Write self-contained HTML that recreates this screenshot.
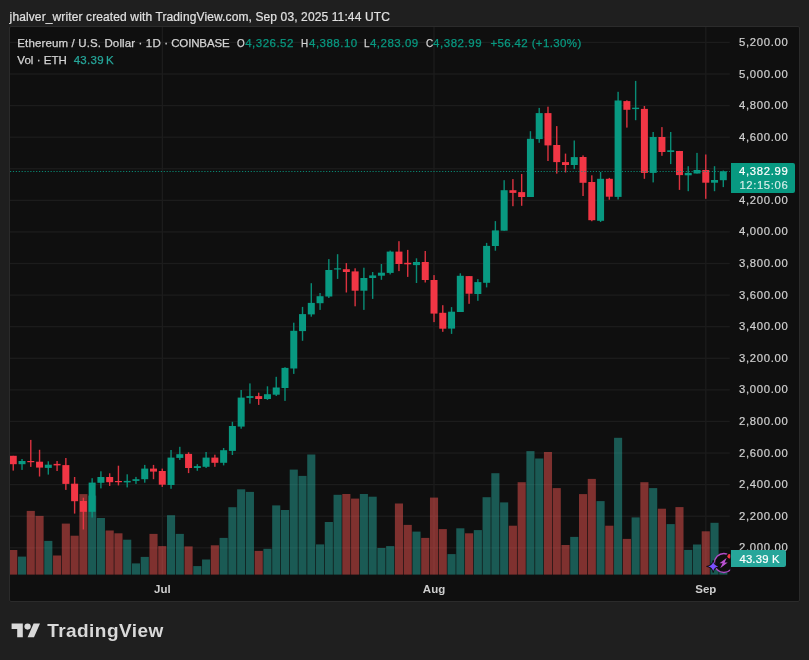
<!DOCTYPE html>
<html><head><meta charset="utf-8"><title>ETHUSD chart</title>
<style>
html,body{margin:0;padding:0;background:#1f1f1f;}
body{width:809px;height:660px;position:relative;overflow:hidden;font-family:"Liberation Sans",sans-serif;}
.t{position:absolute;white-space:nowrap;line-height:1;}
#frame{position:absolute;left:8.9px;top:25.9px;width:791.2px;height:576.4px;background:#0f0f0f;border:1.45px solid #2b2b2b;box-sizing:border-box;border-radius:2px;}
svg{position:absolute;left:0;top:0;}
.ax{font-size:12px;color:#cfcfcf;left:739px;letter-spacing:0.33px;}
.lg{font-size:12px;color:#d1d1d1;}
.gv{color:#089981;}
.mo{font-size:11.5px;font-weight:bold;color:#cdcdcd;transform:translateX(-50%);}
</style></head><body>
<div class="t" id="hdr" style="left:9.6px;top:11.2px;font-size:12px;color:#e0e0e0;letter-spacing:0.118px;-webkit-text-stroke:0.2px #e0e0e0;">jhalver_writer created with TradingView.com, Sep 03, 2025 11:44 UTC</div>
<div id="frame"></div>
<svg width="809" height="660" viewBox="0 0 809 660">
<rect x="10" y="41.77" width="719.8" height="1.3" fill="#1c1c1c"/>
<rect x="10" y="73.36" width="719.8" height="1.3" fill="#1c1c1c"/>
<rect x="10" y="104.94" width="719.8" height="1.3" fill="#1c1c1c"/>
<rect x="10" y="136.53" width="719.8" height="1.3" fill="#1c1c1c"/>
<rect x="10" y="168.11" width="719.8" height="1.3" fill="#1c1c1c"/>
<rect x="10" y="199.70" width="719.8" height="1.3" fill="#1c1c1c"/>
<rect x="10" y="231.29" width="719.8" height="1.3" fill="#1c1c1c"/>
<rect x="10" y="262.87" width="719.8" height="1.3" fill="#1c1c1c"/>
<rect x="10" y="294.46" width="719.8" height="1.3" fill="#1c1c1c"/>
<rect x="10" y="326.04" width="719.8" height="1.3" fill="#1c1c1c"/>
<rect x="10" y="357.63" width="719.8" height="1.3" fill="#1c1c1c"/>
<rect x="10" y="389.22" width="719.8" height="1.3" fill="#1c1c1c"/>
<rect x="10" y="420.80" width="719.8" height="1.3" fill="#1c1c1c"/>
<rect x="10" y="452.39" width="719.8" height="1.3" fill="#1c1c1c"/>
<rect x="10" y="483.97" width="719.8" height="1.3" fill="#1c1c1c"/>
<rect x="10" y="515.56" width="719.8" height="1.3" fill="#1c1c1c"/>
<rect x="10" y="547.15" width="719.8" height="1.3" fill="#1c1c1c"/>
<rect x="161.75" y="27" width="1.3" height="547.6" fill="#1c1c1c"/>
<rect x="433.35" y="27" width="1.3" height="547.6" fill="#1c1c1c"/>
<rect x="705.15" y="27" width="1.3" height="547.6" fill="#1c1c1c"/>
<rect x="10.00" y="550.0" width="7.30" height="24.6" fill="#ef5350" fill-opacity="0.5"/>
<rect x="17.97" y="556.6" width="8.10" height="18.0" fill="#26a69a" fill-opacity="0.5"/>
<rect x="26.73" y="510.9" width="8.10" height="63.7" fill="#ef5350" fill-opacity="0.5"/>
<rect x="35.50" y="515.9" width="8.10" height="58.7" fill="#ef5350" fill-opacity="0.5"/>
<rect x="44.26" y="540.9" width="8.10" height="33.7" fill="#26a69a" fill-opacity="0.5"/>
<rect x="53.03" y="555.5" width="8.10" height="19.1" fill="#ef5350" fill-opacity="0.5"/>
<rect x="61.80" y="523.6" width="8.10" height="51.0" fill="#ef5350" fill-opacity="0.5"/>
<rect x="70.56" y="535.7" width="8.10" height="38.9" fill="#ef5350" fill-opacity="0.5"/>
<rect x="79.33" y="494.1" width="8.10" height="80.5" fill="#ef5350" fill-opacity="0.5"/>
<rect x="88.09" y="495.6" width="8.10" height="79.0" fill="#26a69a" fill-opacity="0.5"/>
<rect x="96.86" y="518.0" width="8.10" height="56.6" fill="#26a69a" fill-opacity="0.5"/>
<rect x="105.63" y="530.5" width="8.10" height="44.1" fill="#ef5350" fill-opacity="0.5"/>
<rect x="114.39" y="533.3" width="8.10" height="41.3" fill="#ef5350" fill-opacity="0.5"/>
<rect x="123.16" y="539.7" width="8.10" height="34.9" fill="#26a69a" fill-opacity="0.5"/>
<rect x="131.92" y="563.4" width="8.10" height="11.2" fill="#26a69a" fill-opacity="0.5"/>
<rect x="140.69" y="556.9" width="8.10" height="17.7" fill="#26a69a" fill-opacity="0.5"/>
<rect x="149.46" y="533.9" width="8.10" height="40.7" fill="#ef5350" fill-opacity="0.5"/>
<rect x="158.22" y="546.1" width="8.10" height="28.5" fill="#ef5350" fill-opacity="0.5"/>
<rect x="166.99" y="515.2" width="8.10" height="59.4" fill="#26a69a" fill-opacity="0.5"/>
<rect x="175.75" y="533.9" width="8.10" height="40.7" fill="#26a69a" fill-opacity="0.5"/>
<rect x="184.52" y="546.4" width="8.10" height="28.2" fill="#ef5350" fill-opacity="0.5"/>
<rect x="193.29" y="566.1" width="8.10" height="8.5" fill="#26a69a" fill-opacity="0.5"/>
<rect x="202.05" y="559.5" width="8.10" height="15.1" fill="#26a69a" fill-opacity="0.5"/>
<rect x="210.82" y="545.3" width="8.10" height="29.3" fill="#ef5350" fill-opacity="0.5"/>
<rect x="219.58" y="537.9" width="8.10" height="36.7" fill="#26a69a" fill-opacity="0.5"/>
<rect x="228.35" y="507.2" width="8.10" height="67.4" fill="#26a69a" fill-opacity="0.5"/>
<rect x="237.12" y="489.3" width="8.10" height="85.3" fill="#26a69a" fill-opacity="0.5"/>
<rect x="245.88" y="491.9" width="8.10" height="82.7" fill="#26a69a" fill-opacity="0.5"/>
<rect x="254.65" y="550.9" width="8.10" height="23.7" fill="#ef5350" fill-opacity="0.5"/>
<rect x="263.41" y="548.8" width="8.10" height="25.8" fill="#26a69a" fill-opacity="0.5"/>
<rect x="272.18" y="505.4" width="8.10" height="69.2" fill="#26a69a" fill-opacity="0.5"/>
<rect x="280.95" y="510.0" width="8.10" height="64.6" fill="#26a69a" fill-opacity="0.5"/>
<rect x="289.71" y="469.6" width="8.10" height="105.0" fill="#26a69a" fill-opacity="0.5"/>
<rect x="298.48" y="475.9" width="8.10" height="98.7" fill="#26a69a" fill-opacity="0.5"/>
<rect x="307.24" y="454.5" width="8.10" height="120.1" fill="#26a69a" fill-opacity="0.5"/>
<rect x="316.01" y="544.4" width="8.10" height="30.2" fill="#26a69a" fill-opacity="0.5"/>
<rect x="324.78" y="522.0" width="8.10" height="52.6" fill="#26a69a" fill-opacity="0.5"/>
<rect x="333.54" y="494.8" width="8.10" height="79.8" fill="#26a69a" fill-opacity="0.5"/>
<rect x="342.31" y="494.0" width="8.10" height="80.6" fill="#ef5350" fill-opacity="0.5"/>
<rect x="351.07" y="498.6" width="8.10" height="76.0" fill="#ef5350" fill-opacity="0.5"/>
<rect x="359.84" y="494.0" width="8.10" height="80.6" fill="#26a69a" fill-opacity="0.5"/>
<rect x="368.61" y="496.7" width="8.10" height="77.9" fill="#26a69a" fill-opacity="0.5"/>
<rect x="377.37" y="548.0" width="8.10" height="26.6" fill="#26a69a" fill-opacity="0.5"/>
<rect x="386.14" y="546.1" width="8.10" height="28.5" fill="#26a69a" fill-opacity="0.5"/>
<rect x="394.90" y="503.5" width="8.10" height="71.1" fill="#ef5350" fill-opacity="0.5"/>
<rect x="403.67" y="524.9" width="8.10" height="49.7" fill="#ef5350" fill-opacity="0.5"/>
<rect x="412.44" y="531.6" width="8.10" height="43.0" fill="#26a69a" fill-opacity="0.5"/>
<rect x="421.20" y="537.9" width="8.10" height="36.7" fill="#ef5350" fill-opacity="0.5"/>
<rect x="429.97" y="497.6" width="8.10" height="77.0" fill="#ef5350" fill-opacity="0.5"/>
<rect x="438.73" y="529.1" width="8.10" height="45.5" fill="#ef5350" fill-opacity="0.5"/>
<rect x="447.50" y="554.1" width="8.10" height="20.5" fill="#26a69a" fill-opacity="0.5"/>
<rect x="456.27" y="528.3" width="8.10" height="46.3" fill="#26a69a" fill-opacity="0.5"/>
<rect x="465.03" y="533.3" width="8.10" height="41.3" fill="#ef5350" fill-opacity="0.5"/>
<rect x="473.80" y="530.1" width="8.10" height="44.5" fill="#26a69a" fill-opacity="0.5"/>
<rect x="482.56" y="497.2" width="8.10" height="77.4" fill="#26a69a" fill-opacity="0.5"/>
<rect x="491.33" y="473.2" width="8.10" height="101.4" fill="#26a69a" fill-opacity="0.5"/>
<rect x="500.10" y="502.4" width="8.10" height="72.2" fill="#26a69a" fill-opacity="0.5"/>
<rect x="508.86" y="525.7" width="8.10" height="48.9" fill="#ef5350" fill-opacity="0.5"/>
<rect x="517.63" y="482.2" width="8.10" height="92.4" fill="#ef5350" fill-opacity="0.5"/>
<rect x="526.39" y="451.1" width="8.10" height="123.5" fill="#26a69a" fill-opacity="0.5"/>
<rect x="535.16" y="458.5" width="8.10" height="116.1" fill="#26a69a" fill-opacity="0.5"/>
<rect x="543.93" y="452.0" width="8.10" height="122.6" fill="#ef5350" fill-opacity="0.5"/>
<rect x="552.69" y="488.1" width="8.10" height="86.5" fill="#ef5350" fill-opacity="0.5"/>
<rect x="561.46" y="545.0" width="8.10" height="29.6" fill="#ef5350" fill-opacity="0.5"/>
<rect x="570.22" y="536.9" width="8.10" height="37.7" fill="#26a69a" fill-opacity="0.5"/>
<rect x="578.99" y="494.1" width="8.10" height="80.5" fill="#ef5350" fill-opacity="0.5"/>
<rect x="587.76" y="478.9" width="8.10" height="95.7" fill="#ef5350" fill-opacity="0.5"/>
<rect x="596.52" y="501.1" width="8.10" height="73.5" fill="#26a69a" fill-opacity="0.5"/>
<rect x="605.29" y="525.7" width="8.10" height="48.9" fill="#ef5350" fill-opacity="0.5"/>
<rect x="614.05" y="437.8" width="8.10" height="136.8" fill="#26a69a" fill-opacity="0.5"/>
<rect x="622.82" y="538.9" width="8.10" height="35.7" fill="#ef5350" fill-opacity="0.5"/>
<rect x="631.59" y="517.4" width="8.10" height="57.2" fill="#26a69a" fill-opacity="0.5"/>
<rect x="640.35" y="482.2" width="8.10" height="92.4" fill="#ef5350" fill-opacity="0.5"/>
<rect x="649.12" y="488.1" width="8.10" height="86.5" fill="#26a69a" fill-opacity="0.5"/>
<rect x="657.88" y="508.7" width="8.10" height="65.9" fill="#ef5350" fill-opacity="0.5"/>
<rect x="666.65" y="524.1" width="8.10" height="50.5" fill="#26a69a" fill-opacity="0.5"/>
<rect x="675.42" y="507.1" width="8.10" height="67.5" fill="#ef5350" fill-opacity="0.5"/>
<rect x="684.18" y="549.9" width="8.10" height="24.7" fill="#26a69a" fill-opacity="0.5"/>
<rect x="692.95" y="544.5" width="8.10" height="30.1" fill="#26a69a" fill-opacity="0.5"/>
<rect x="701.71" y="531.3" width="8.10" height="43.3" fill="#ef5350" fill-opacity="0.5"/>
<rect x="710.48" y="522.8" width="8.10" height="51.8" fill="#26a69a" fill-opacity="0.5"/>
<rect x="719.25" y="558.5" width="8.10" height="16.1" fill="#26a69a" fill-opacity="0.5"/>
<rect x="12.55" y="455.8" width="1.4" height="14.8" fill="#f23645" opacity="0.9"/>
<rect x="10.00" y="455.8" width="6.75" height="8.4" fill="#f23645"/>
<rect x="21.32" y="459.0" width="1.4" height="10.9" fill="#089981" opacity="0.9"/>
<rect x="18.52" y="461.0" width="7.00" height="3.2" fill="#089981"/>
<rect x="30.08" y="439.9" width="1.4" height="27.0" fill="#f23645" opacity="0.9"/>
<rect x="27.28" y="461.0" width="7.00" height="1.2" fill="#f23645"/>
<rect x="38.85" y="449.8" width="1.4" height="26.7" fill="#f23645" opacity="0.9"/>
<rect x="36.05" y="461.7" width="7.00" height="5.9" fill="#f23645"/>
<rect x="47.61" y="461.3" width="1.4" height="13.3" fill="#089981" opacity="0.9"/>
<rect x="44.81" y="464.7" width="7.00" height="3.2" fill="#089981"/>
<rect x="56.38" y="461.0" width="1.4" height="10.0" fill="#f23645" opacity="0.9"/>
<rect x="53.58" y="463.9" width="7.00" height="1.5" fill="#f23645"/>
<rect x="65.15" y="458.0" width="1.4" height="31.9" fill="#f23645" opacity="0.9"/>
<rect x="62.35" y="465.1" width="7.00" height="18.8" fill="#f23645"/>
<rect x="73.91" y="477.0" width="1.4" height="36.6" fill="#f23645" opacity="0.9"/>
<rect x="71.11" y="483.7" width="7.00" height="17.5" fill="#f23645"/>
<rect x="82.68" y="497.7" width="1.4" height="31.8" fill="#f23645" opacity="0.9"/>
<rect x="79.88" y="501.0" width="7.00" height="10.8" fill="#f23645"/>
<rect x="91.44" y="478.2" width="1.4" height="39.3" fill="#089981" opacity="0.9"/>
<rect x="88.64" y="482.6" width="7.00" height="29.2" fill="#089981"/>
<rect x="100.21" y="471.3" width="1.4" height="17.1" fill="#089981" opacity="0.9"/>
<rect x="97.41" y="477.0" width="7.00" height="5.8" fill="#089981"/>
<rect x="108.98" y="473.3" width="1.4" height="12.6" fill="#f23645" opacity="0.9"/>
<rect x="106.18" y="477.0" width="7.00" height="5.2" fill="#f23645"/>
<rect x="117.74" y="465.7" width="1.4" height="19.7" fill="#f23645" opacity="0.9"/>
<rect x="114.94" y="481.0" width="7.00" height="1.2" fill="#f23645"/>
<rect x="126.51" y="474.3" width="1.4" height="13.1" fill="#089981" opacity="0.9"/>
<rect x="123.71" y="480.9" width="7.00" height="1.5" fill="#089981"/>
<rect x="135.27" y="476.9" width="1.4" height="7.0" fill="#089981" opacity="0.9"/>
<rect x="132.47" y="479.2" width="7.00" height="1.7" fill="#089981"/>
<rect x="144.04" y="464.9" width="1.4" height="17.8" fill="#089981" opacity="0.9"/>
<rect x="141.24" y="468.6" width="7.00" height="10.6" fill="#089981"/>
<rect x="152.81" y="464.9" width="1.4" height="14.3" fill="#f23645" opacity="0.9"/>
<rect x="150.01" y="468.6" width="7.00" height="3.0" fill="#f23645"/>
<rect x="161.57" y="468.6" width="1.4" height="18.3" fill="#f23645" opacity="0.9"/>
<rect x="158.77" y="471.0" width="7.00" height="13.7" fill="#f23645"/>
<rect x="170.34" y="450.0" width="1.4" height="38.8" fill="#089981" opacity="0.9"/>
<rect x="167.54" y="457.6" width="7.00" height="27.4" fill="#089981"/>
<rect x="179.10" y="446.8" width="1.4" height="13.1" fill="#089981" opacity="0.9"/>
<rect x="176.30" y="454.2" width="7.00" height="3.7" fill="#089981"/>
<rect x="187.87" y="452.3" width="1.4" height="20.8" fill="#f23645" opacity="0.9"/>
<rect x="185.07" y="453.9" width="7.00" height="14.1" fill="#f23645"/>
<rect x="196.64" y="464.2" width="1.4" height="6.6" fill="#089981" opacity="0.9"/>
<rect x="193.84" y="466.1" width="7.00" height="1.9" fill="#089981"/>
<rect x="205.40" y="452.0" width="1.4" height="16.0" fill="#089981" opacity="0.9"/>
<rect x="202.60" y="457.6" width="7.00" height="9.2" fill="#089981"/>
<rect x="214.17" y="454.7" width="1.4" height="12.1" fill="#f23645" opacity="0.9"/>
<rect x="211.37" y="457.6" width="7.00" height="5.2" fill="#f23645"/>
<rect x="222.93" y="448.0" width="1.4" height="17.4" fill="#089981" opacity="0.9"/>
<rect x="220.13" y="450.2" width="7.00" height="12.6" fill="#089981"/>
<rect x="231.70" y="421.8" width="1.4" height="33.2" fill="#089981" opacity="0.9"/>
<rect x="228.90" y="426.0" width="7.00" height="24.9" fill="#089981"/>
<rect x="240.47" y="390.0" width="1.4" height="38.7" fill="#089981" opacity="0.9"/>
<rect x="237.67" y="397.6" width="7.00" height="29.0" fill="#089981"/>
<rect x="249.23" y="383.4" width="1.4" height="20.2" fill="#089981" opacity="0.9"/>
<rect x="246.43" y="396.1" width="7.00" height="1.8" fill="#089981"/>
<rect x="258.00" y="392.7" width="1.4" height="12.2" fill="#f23645" opacity="0.9"/>
<rect x="255.20" y="396.1" width="7.00" height="2.9" fill="#f23645"/>
<rect x="266.76" y="386.3" width="1.4" height="13.6" fill="#089981" opacity="0.9"/>
<rect x="263.96" y="394.2" width="7.00" height="4.8" fill="#089981"/>
<rect x="275.53" y="376.8" width="1.4" height="19.2" fill="#089981" opacity="0.9"/>
<rect x="272.73" y="387.5" width="7.00" height="7.2" fill="#089981"/>
<rect x="284.30" y="367.2" width="1.4" height="33.7" fill="#089981" opacity="0.9"/>
<rect x="281.50" y="367.9" width="7.00" height="20.1" fill="#089981"/>
<rect x="293.06" y="322.7" width="1.4" height="51.2" fill="#089981" opacity="0.9"/>
<rect x="290.26" y="330.8" width="7.00" height="37.7" fill="#089981"/>
<rect x="301.83" y="306.9" width="1.4" height="33.9" fill="#089981" opacity="0.9"/>
<rect x="299.03" y="314.1" width="7.00" height="17.0" fill="#089981"/>
<rect x="310.59" y="283.2" width="1.4" height="33.5" fill="#089981" opacity="0.9"/>
<rect x="307.79" y="302.9" width="7.00" height="11.5" fill="#089981"/>
<rect x="319.36" y="293.0" width="1.4" height="16.9" fill="#089981" opacity="0.9"/>
<rect x="316.56" y="296.2" width="7.00" height="7.0" fill="#089981"/>
<rect x="328.13" y="259.1" width="1.4" height="38.9" fill="#089981" opacity="0.9"/>
<rect x="325.33" y="270.0" width="7.00" height="26.5" fill="#089981"/>
<rect x="336.89" y="254.2" width="1.4" height="24.7" fill="#089981" opacity="0.9"/>
<rect x="334.09" y="268.3" width="7.00" height="1.2" fill="#089981"/>
<rect x="345.66" y="263.1" width="1.4" height="29.4" fill="#f23645" opacity="0.9"/>
<rect x="342.86" y="269.2" width="7.00" height="2.8" fill="#f23645"/>
<rect x="354.42" y="268.3" width="1.4" height="38.0" fill="#f23645" opacity="0.9"/>
<rect x="351.62" y="271.4" width="7.00" height="19.3" fill="#f23645"/>
<rect x="363.19" y="267.7" width="1.4" height="42.2" fill="#089981" opacity="0.9"/>
<rect x="360.39" y="278.0" width="7.00" height="12.7" fill="#089981"/>
<rect x="371.96" y="272.0" width="1.4" height="26.9" fill="#089981" opacity="0.9"/>
<rect x="369.16" y="275.4" width="7.00" height="2.6" fill="#089981"/>
<rect x="380.72" y="264.0" width="1.4" height="15.8" fill="#089981" opacity="0.9"/>
<rect x="377.92" y="272.7" width="7.00" height="3.0" fill="#089981"/>
<rect x="389.49" y="250.6" width="1.4" height="23.8" fill="#089981" opacity="0.9"/>
<rect x="386.69" y="251.6" width="7.00" height="21.3" fill="#089981"/>
<rect x="398.25" y="241.2" width="1.4" height="29.9" fill="#f23645" opacity="0.9"/>
<rect x="395.45" y="251.6" width="7.00" height="12.4" fill="#f23645"/>
<rect x="407.02" y="249.9" width="1.4" height="27.0" fill="#f23645" opacity="0.9"/>
<rect x="404.22" y="262.8" width="7.00" height="1.5" fill="#f23645"/>
<rect x="415.79" y="258.3" width="1.4" height="24.7" fill="#089981" opacity="0.9"/>
<rect x="412.99" y="262.0" width="7.00" height="3.1" fill="#089981"/>
<rect x="424.55" y="251.0" width="1.4" height="31.5" fill="#f23645" opacity="0.9"/>
<rect x="421.75" y="262.0" width="7.00" height="18.0" fill="#f23645"/>
<rect x="433.32" y="275.1" width="1.4" height="47.0" fill="#f23645" opacity="0.9"/>
<rect x="430.52" y="280.0" width="7.00" height="33.6" fill="#f23645"/>
<rect x="442.08" y="305.2" width="1.4" height="26.6" fill="#f23645" opacity="0.9"/>
<rect x="439.28" y="312.8" width="7.00" height="15.9" fill="#f23645"/>
<rect x="450.85" y="307.1" width="1.4" height="26.8" fill="#089981" opacity="0.9"/>
<rect x="448.05" y="311.7" width="7.00" height="16.9" fill="#089981"/>
<rect x="459.62" y="273.3" width="1.4" height="38.7" fill="#089981" opacity="0.9"/>
<rect x="456.82" y="275.8" width="7.00" height="36.2" fill="#089981"/>
<rect x="468.38" y="276.1" width="1.4" height="27.7" fill="#f23645" opacity="0.9"/>
<rect x="465.58" y="276.1" width="7.00" height="17.6" fill="#f23645"/>
<rect x="477.15" y="279.1" width="1.4" height="21.7" fill="#089981" opacity="0.9"/>
<rect x="474.35" y="282.1" width="7.00" height="11.9" fill="#089981"/>
<rect x="485.91" y="242.9" width="1.4" height="44.5" fill="#089981" opacity="0.9"/>
<rect x="483.11" y="245.9" width="7.00" height="36.9" fill="#089981"/>
<rect x="494.68" y="221.1" width="1.4" height="29.6" fill="#089981" opacity="0.9"/>
<rect x="491.88" y="230.4" width="7.00" height="15.6" fill="#089981"/>
<rect x="503.45" y="180.2" width="1.4" height="50.5" fill="#089981" opacity="0.9"/>
<rect x="500.65" y="190.2" width="7.00" height="40.5" fill="#089981"/>
<rect x="512.21" y="179.1" width="1.4" height="27.1" fill="#f23645" opacity="0.9"/>
<rect x="509.41" y="190.2" width="7.00" height="2.7" fill="#f23645"/>
<rect x="520.98" y="174.0" width="1.4" height="31.8" fill="#f23645" opacity="0.9"/>
<rect x="518.18" y="192.1" width="7.00" height="4.9" fill="#f23645"/>
<rect x="529.74" y="131.2" width="1.4" height="65.8" fill="#089981" opacity="0.9"/>
<rect x="526.94" y="138.8" width="7.00" height="58.2" fill="#089981"/>
<rect x="538.51" y="107.9" width="1.4" height="34.9" fill="#089981" opacity="0.9"/>
<rect x="535.71" y="113.1" width="7.00" height="26.0" fill="#089981"/>
<rect x="547.28" y="106.7" width="1.4" height="54.3" fill="#f23645" opacity="0.9"/>
<rect x="544.48" y="113.1" width="7.00" height="32.3" fill="#f23645"/>
<rect x="556.04" y="126.1" width="1.4" height="47.5" fill="#f23645" opacity="0.9"/>
<rect x="553.24" y="145.0" width="7.00" height="17.1" fill="#f23645"/>
<rect x="564.81" y="153.6" width="1.4" height="18.9" fill="#f23645" opacity="0.9"/>
<rect x="562.01" y="162.1" width="7.00" height="2.9" fill="#f23645"/>
<rect x="573.57" y="140.5" width="1.4" height="28.6" fill="#089981" opacity="0.9"/>
<rect x="570.77" y="157.1" width="7.00" height="7.9" fill="#089981"/>
<rect x="582.34" y="155.4" width="1.4" height="40.6" fill="#f23645" opacity="0.9"/>
<rect x="579.54" y="157.0" width="7.00" height="25.8" fill="#f23645"/>
<rect x="591.11" y="175.3" width="1.4" height="45.9" fill="#f23645" opacity="0.9"/>
<rect x="588.31" y="182.0" width="7.00" height="38.2" fill="#f23645"/>
<rect x="599.87" y="172.0" width="1.4" height="50.0" fill="#089981" opacity="0.9"/>
<rect x="597.07" y="178.8" width="7.00" height="42.0" fill="#089981"/>
<rect x="608.64" y="177.9" width="1.4" height="21.8" fill="#f23645" opacity="0.9"/>
<rect x="605.84" y="178.8" width="7.00" height="17.9" fill="#f23645"/>
<rect x="617.40" y="91.8" width="1.4" height="107.7" fill="#089981" opacity="0.9"/>
<rect x="614.60" y="100.5" width="7.00" height="96.4" fill="#089981"/>
<rect x="626.17" y="100.3" width="1.4" height="27.3" fill="#f23645" opacity="0.9"/>
<rect x="623.37" y="101.1" width="7.00" height="8.7" fill="#f23645"/>
<rect x="634.94" y="80.9" width="1.4" height="39.3" fill="#089981" opacity="0.9"/>
<rect x="632.14" y="107.7" width="7.00" height="1.4" fill="#089981"/>
<rect x="643.70" y="106.0" width="1.4" height="72.8" fill="#f23645" opacity="0.9"/>
<rect x="640.90" y="108.9" width="7.00" height="64.0" fill="#f23645"/>
<rect x="652.47" y="132.0" width="1.4" height="50.4" fill="#089981" opacity="0.9"/>
<rect x="649.67" y="137.0" width="7.00" height="35.9" fill="#089981"/>
<rect x="661.23" y="127.1" width="1.4" height="28.7" fill="#f23645" opacity="0.9"/>
<rect x="658.43" y="137.0" width="7.00" height="15.0" fill="#f23645"/>
<rect x="670.00" y="132.0" width="1.4" height="32.1" fill="#089981" opacity="0.9"/>
<rect x="667.20" y="150.3" width="7.00" height="1.7" fill="#089981"/>
<rect x="678.77" y="150.9" width="1.4" height="39.0" fill="#f23645" opacity="0.9"/>
<rect x="675.97" y="151.0" width="7.00" height="24.1" fill="#f23645"/>
<rect x="687.53" y="166.2" width="1.4" height="25.0" fill="#089981" opacity="0.9"/>
<rect x="684.73" y="172.9" width="7.00" height="2.4" fill="#089981"/>
<rect x="696.30" y="152.9" width="1.4" height="20.6" fill="#089981" opacity="0.9"/>
<rect x="693.50" y="170.0" width="7.00" height="3.5" fill="#089981"/>
<rect x="705.06" y="154.5" width="1.4" height="44.3" fill="#f23645" opacity="0.9"/>
<rect x="702.26" y="170.0" width="7.00" height="12.7" fill="#f23645"/>
<rect x="713.83" y="166.2" width="1.4" height="25.0" fill="#089981" opacity="0.9"/>
<rect x="711.03" y="180.0" width="7.00" height="2.7" fill="#089981"/>
<rect x="722.60" y="170.5" width="1.4" height="16.6" fill="#089981" opacity="0.9"/>
<rect x="719.80" y="171.3" width="7.00" height="8.9" fill="#089981"/>
<line x1="10" y1="171.5" x2="730" y2="171.5" stroke="#089981" stroke-width="1.15" stroke-dasharray="1.2 1.7" opacity="0.85"/>
<!-- icon -->
<clipPath id="pc"><rect x="10" y="27" width="720.2" height="548"/></clipPath>
<g clip-path="url(#pc)">
<circle cx="723.9" cy="563" r="9.5" fill="#0f0f0f" stroke="#b14cc6" stroke-width="1.4"/>
<polygon points="726.8,557.7 719.5,563.3 722.6,563.2 720.2,568.3 727.7,562.4 724.6,562.6" fill="#bb52d2"/>
<path d="M713.2 560.2 Q714.2 565.4 719.9 566.4 Q714.2 567.4 713.2 572.6 Q712.2 567.4 706.5 566.4 Q712.2 565.4 713.2 560.2Z" fill="#0f0f0f" stroke="#0f0f0f" stroke-width="0.8"/>
<path d="M713.2 561.7 Q714 565.6 718.3 566.4 Q714 567.2 713.2 571.1 Q712.4 567.2 708.1 566.4 Q712.4 565.6 713.2 561.7Z" fill="#7a50ff"/>
<circle cx="729.7" cy="556.2" r="3.4" fill="#0f0f0f"/>
<circle cx="729.7" cy="556.2" r="2.3" fill="#f23645"/>
</g>
<!-- logo mark -->
<g transform="translate(11.6,620.5) scale(0.8,0.765)" fill="#d9d9d9">
<path d="M14 22H7V11H0V4h14v18zM28 22h-8l7.5-18h8L28 22z"/><circle cx="20" cy="8" r="4"/>
</g>
</svg>
<div class="t " style="left:739.00px;top:36.92px;font-size:11.3px;color:#d0d0d0;font-weight:normal;letter-spacing:0.689px;-webkit-text-stroke:0.2px;">5,200.00</div>
<div class="t " style="left:739.00px;top:68.51px;font-size:11.3px;color:#d0d0d0;font-weight:normal;letter-spacing:0.689px;-webkit-text-stroke:0.2px;">5,000.00</div>
<div class="t " style="left:739.00px;top:100.09px;font-size:11.3px;color:#d0d0d0;font-weight:normal;letter-spacing:0.689px;-webkit-text-stroke:0.2px;">4,800.00</div>
<div class="t " style="left:739.00px;top:131.68px;font-size:11.3px;color:#d0d0d0;font-weight:normal;letter-spacing:0.689px;-webkit-text-stroke:0.2px;">4,600.00</div>
<div class="t " style="left:739.00px;top:194.85px;font-size:11.3px;color:#d0d0d0;font-weight:normal;letter-spacing:0.689px;-webkit-text-stroke:0.2px;">4,200.00</div>
<div class="t " style="left:739.00px;top:226.44px;font-size:11.3px;color:#d0d0d0;font-weight:normal;letter-spacing:0.689px;-webkit-text-stroke:0.2px;">4,000.00</div>
<div class="t " style="left:739.00px;top:258.02px;font-size:11.3px;color:#d0d0d0;font-weight:normal;letter-spacing:0.689px;-webkit-text-stroke:0.2px;">3,800.00</div>
<div class="t " style="left:739.00px;top:289.61px;font-size:11.3px;color:#d0d0d0;font-weight:normal;letter-spacing:0.689px;-webkit-text-stroke:0.2px;">3,600.00</div>
<div class="t " style="left:739.00px;top:321.19px;font-size:11.3px;color:#d0d0d0;font-weight:normal;letter-spacing:0.689px;-webkit-text-stroke:0.2px;">3,400.00</div>
<div class="t " style="left:739.00px;top:352.78px;font-size:11.3px;color:#d0d0d0;font-weight:normal;letter-spacing:0.689px;-webkit-text-stroke:0.2px;">3,200.00</div>
<div class="t " style="left:739.00px;top:384.37px;font-size:11.3px;color:#d0d0d0;font-weight:normal;letter-spacing:0.689px;-webkit-text-stroke:0.2px;">3,000.00</div>
<div class="t " style="left:739.00px;top:415.95px;font-size:11.3px;color:#d0d0d0;font-weight:normal;letter-spacing:0.689px;-webkit-text-stroke:0.2px;">2,800.00</div>
<div class="t " style="left:739.00px;top:447.54px;font-size:11.3px;color:#d0d0d0;font-weight:normal;letter-spacing:0.689px;-webkit-text-stroke:0.2px;">2,600.00</div>
<div class="t " style="left:739.00px;top:479.12px;font-size:11.3px;color:#d0d0d0;font-weight:normal;letter-spacing:0.689px;-webkit-text-stroke:0.2px;">2,400.00</div>
<div class="t " style="left:739.00px;top:510.71px;font-size:11.3px;color:#d0d0d0;font-weight:normal;letter-spacing:0.689px;-webkit-text-stroke:0.2px;">2,200.00</div>
<div class="t " style="left:739.00px;top:542.3px;font-size:11.3px;color:#d0d0d0;font-weight:normal;letter-spacing:0.689px;-webkit-text-stroke:0.2px;">2,000.00</div>
<div style="position:absolute;left:730.7px;top:163.2px;width:64.1px;height:29.7px;background:#089981;border-radius:0 2px 2px 0"></div>
<div style="position:absolute;left:730.7px;top:550.1px;width:55.1px;height:16.9px;background:#26a69a;border-radius:0 2px 2px 0"></div>
<div class="t " style="left:739.00px;top:165.9px;font-size:11.3px;color:#ffffff;font-weight:normal;letter-spacing:0.689px;-webkit-text-stroke:0.2px;">4,382.99</div>
<div class="t " style="left:739.40px;top:179.8px;font-size:11.3px;color:#d6eeea;font-weight:normal;letter-spacing:0.614px;-webkit-text-stroke:0.15px;">12:15:06</div>
<div class="t " style="left:739.40px;top:553.5px;font-size:11.3px;color:#ffffff;font-weight:normal;letter-spacing:0.204px;-webkit-text-stroke:0.2px;">43.39</div>
<div class="t " style="left:771.90px;top:553.5px;font-size:11.3px;color:#ffffff;font-weight:normal;letter-spacing:0.000px;-webkit-text-stroke:0.2px;">K</div>
<div class="t mo" style="left:162.4px;top:584.1px">Jul</div>
<div class="t mo" style="left:434px;top:584.1px">Aug</div>
<div class="t mo" style="left:705.8px;top:584.1px">Sep</div>
<div class="t " style="left:17.30px;top:38.2px;font-size:11.5px;color:#d4d4d4;font-weight:normal;letter-spacing:0.132px;-webkit-text-stroke:0.25px;">Ethereum / U.S. Dollar · 1D ·</div>
<div class="t " style="left:171.20px;top:38.2px;font-size:11.5px;color:#d4d4d4;font-weight:normal;letter-spacing:-0.142px;-webkit-text-stroke:0.25px;">COINBASE</div>
<div class="t " style="left:236.70px;top:38.2px;font-size:11.5px;color:#d4d4d4;font-weight:normal;letter-spacing:0.000px;-webkit-text-stroke:0.25px;transform:scaleX(0.86);transform-origin:left center;">O</div>
<div class="t " style="left:245.20px;top:38.2px;font-size:11.5px;color:#089981;font-weight:normal;letter-spacing:0.492px;-webkit-text-stroke:0.25px;">4,326.52</div>
<div class="t " style="left:301.00px;top:38.2px;font-size:11.5px;color:#d4d4d4;font-weight:normal;letter-spacing:0.000px;-webkit-text-stroke:0.25px;transform:scaleX(0.86);transform-origin:left center;">H</div>
<div class="t " style="left:309.00px;top:38.2px;font-size:11.5px;color:#089981;font-weight:normal;letter-spacing:0.492px;-webkit-text-stroke:0.25px;">4,388.10</div>
<div class="t " style="left:363.50px;top:38.2px;font-size:11.5px;color:#d4d4d4;font-weight:normal;letter-spacing:0.000px;-webkit-text-stroke:0.25px;transform:scaleX(0.86);transform-origin:left center;">L</div>
<div class="t " style="left:369.90px;top:38.2px;font-size:11.5px;color:#089981;font-weight:normal;letter-spacing:0.504px;-webkit-text-stroke:0.25px;">4,283.09</div>
<div class="t " style="left:425.80px;top:38.2px;font-size:11.5px;color:#d4d4d4;font-weight:normal;letter-spacing:0.000px;-webkit-text-stroke:0.25px;transform:scaleX(0.86);transform-origin:left center;">C</div>
<div class="t " style="left:433.10px;top:38.2px;font-size:11.5px;color:#089981;font-weight:normal;letter-spacing:0.529px;-webkit-text-stroke:0.25px;">4,382.99</div>
<div class="t " style="left:490.40px;top:38.2px;font-size:11.5px;color:#089981;font-weight:normal;letter-spacing:0.369px;-webkit-text-stroke:0.25px;">+56.42 (+1.30%)</div>
<div class="t " style="left:17.30px;top:54.5px;font-size:11.5px;color:#d4d4d4;font-weight:normal;letter-spacing:0.053px;-webkit-text-stroke:0.25px;">Vol · ETH</div>
<div class="t " style="left:73.70px;top:54.5px;font-size:11.5px;color:#26a69a;font-weight:normal;letter-spacing:0.284px;-webkit-text-stroke:0.25px;">43.39</div>
<div class="t " style="left:106.00px;top:54.5px;font-size:11.5px;color:#26a69a;font-weight:normal;letter-spacing:0.000px;-webkit-text-stroke:0.25px;">K</div>
<div class="t" id="tv" style="left:47.2px;top:621.4px;font-size:19px;font-weight:bold;color:#d9d9d9;letter-spacing:0.45px;">TradingView</div>
</body></html>
